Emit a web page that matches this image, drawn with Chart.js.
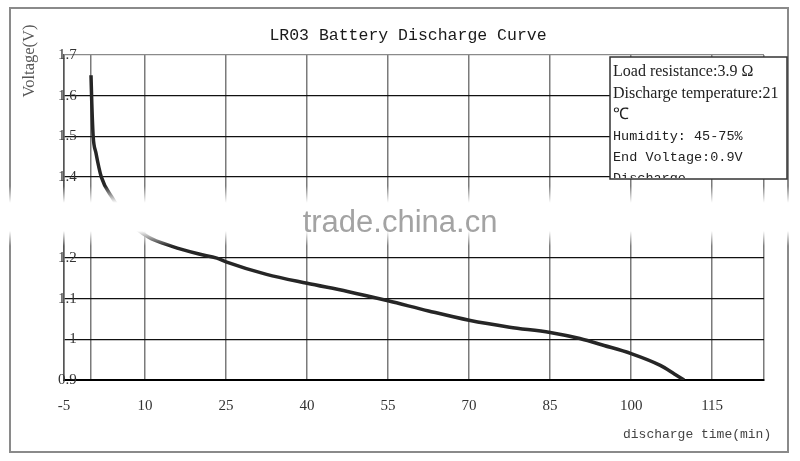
<!DOCTYPE html>
<html lang="en">
<head>
    <meta charset="UTF-8">
    <title>LR03 Battery Discharge Curve</title>
    <script src="https://cdn.jsdelivr.net/npm/chart.js"></script>
    <style>
        body { margin: 0; background: #fff; }
    </style>
</head>
<body>
    <canvas id="dischargeChart" width="800" height="461"></canvas>
    <script>
        // discharge time (min) and voltage (V)
        const times = [0, 0.15, 0.4, 0.9, 1.9, 4.1, 4.8, 7, 10.6, 15, 20, 23.3, 25, 32.5, 40, 47.5, 55, 62.5, 70, 77.5, 85, 90.5, 95, 100, 105.4, 108, 109.8];
        const voltages = [1.65, 1.58, 1.5, 1.46, 1.4, 1.345, 1.33, 1.29, 1.252, 1.229, 1.21, 1.2, 1.191, 1.16, 1.138, 1.118, 1.095, 1.07, 1.047, 1.03, 1.017, 1.002, 0.985, 0.965, 0.936, 0.915, 0.9];

        const xTicks = [-5, 0, 10, 25, 40, 55, 70, 85, 100, 115, 124.6];
        const xLabelled = [-5, 10, 25, 40, 55, 70, 85, 100, 115];

        const chartTitle = 'LR03 Battery Discharge Curve';
        const yTitle = 'Voltage(V)';
        const xTitle = 'discharge time(min)';
        const infoLines = [
            { text: 'Load resistance:3.9 \u03A9', mono: false },
            { text: 'Discharge temperature:21', mono: false },
            { text: '\u2103', mono: false },
            { text: 'Humidity: 45-75%', mono: true },
            { text: 'End Voltage:0.9V', mono: true },
            { text: 'Discharge', mono: true }
        ];
        const watermark = 'trade.china.cn';

        const decorations = {
            id: 'decorations',
            beforeDraw(chart) {
                const c = chart.ctx;
                c.save();
                c.fillStyle = '#fff';
                c.fillRect(0, 0, chart.width, chart.height);
                c.strokeStyle = '#8a8a8a';
                c.lineWidth = 2;
                c.strokeRect(10, 8, 778, 444);
                c.restore();
            },
            afterDraw(chart) {
                const c = chart.ctx;
                c.save();
                // title + axis titles
                c.fillStyle = '#1a1a1a';
                c.font = '16.5px "Liberation Mono"';
                c.textAlign = 'center';
                c.textBaseline = 'alphabetic';
                c.fillText(chartTitle, 408, 40);

                c.fillStyle = '#444';
                c.font = '13px "Liberation Mono"';
                c.textAlign = 'left';
                c.fillText(xTitle, 623, 438);

                c.save();
                c.translate(34, 61);
                c.rotate(-Math.PI / 2);
                c.textAlign = 'center';
                c.fillStyle = '#555';
                c.font = '16.5px "Liberation Serif"';
                c.fillText(yTitle, 0, 0);
                c.restore();

                // info box
                c.fillStyle = '#fff';
                c.fillRect(610, 57, 177, 122);
                c.strokeStyle = '#333';
                c.lineWidth = 1.5;
                c.strokeRect(610, 57, 177, 122);
                c.save();
                c.beginPath();
                c.rect(611, 58, 175, 120);
                c.clip();
                c.fillStyle = '#222';
                const baselines = [76, 98, 119, 140, 161, 182];
                infoLines.forEach((l, i) => {
                    c.font = l.mono ? '13.5px "Liberation Mono"' : '16px "Liberation Serif"';
                    c.fillText(l.text, 613, baselines[i]);
                });
                c.restore();

                // watermark band
                const g = c.createLinearGradient(0, 186, 0, 246);
                g.addColorStop(0, 'rgba(255,255,255,0)');
                g.addColorStop(0.28, 'rgba(255,255,255,1)');
                g.addColorStop(0.75, 'rgba(255,255,255,1)');
                g.addColorStop(1, 'rgba(255,255,255,0)');
                c.fillStyle = g;
                c.fillRect(0, 186, chart.width, 60);
                c.fillStyle = '#a3a3a3';
                c.font = '31px "Liberation Sans"';
                c.textAlign = 'center';
                c.fillText(watermark, 400, 232);
                c.restore();
            }
        };

        const ctx = document.getElementById('dischargeChart').getContext('2d');
        new Chart(ctx, {
            type: 'line',
            data: {
                datasets: [{
                    data: times.map((t, i) => ({ x: t, y: voltages[i] })),
                    borderColor: '#262626',
                    borderWidth: 3.5,
                    pointRadius: 0,
                    cubicInterpolationMode: 'monotone',
                    fill: false
                }]
            },
            options: {
                responsive: false,
                animation: false,
                layout: { padding: { left: 10, right: 36, top: 55, bottom: 0 } },
                plugins: {
                    legend: { display: false },
                    tooltip: { enabled: false }
                },
                scales: {
                    x: {
                        type: 'linear',
                        min: -5,
                        max: 124.6,
                        afterBuildTicks: s => { s.ticks = xTicks.map(v => ({ value: v })); },
                        afterFit: s => { s.height = 81; },
                        grid: {
                            drawTicks: false,
                            color: '#7a7a7a',
                            lineWidth: 1.5
                        },
                        border: { display: true, color: '#000', width: 2 },
                        ticks: {
                            autoSkip: false,
                            maxRotation: 0,
                            padding: 17,
                            color: '#333',
                            font: { family: 'Liberation Serif', size: 15 },
                            callback: v => xLabelled.includes(v) ? String(v) : ''
                        }
                    },
                    y: {
                        min: 0.9,
                        max: 1.7,
                        afterFit: s => { s.width = 54; },
                        grid: {
                            drawTicks: false,
                            color: c => (c.tick && Math.abs(c.tick.value - 1.7) < 1e-6) ? '#8a8a8a' : '#111',
                            lineWidth: 1.3
                        },
                        border: { display: true, color: '#555', width: 1.5 },
                        ticks: {
                            stepSize: 0.1,
                            mirror: true,
                            crossAlign: 'far',
                            padding: -6,
                            color: '#333',
                            font: { family: 'Liberation Serif', size: 15 },
                            callback: v => String(Number(v.toFixed(1)))
                        }
                    }
                }
            },
            plugins: [decorations]
        });
    </script>
</body>
</html>
